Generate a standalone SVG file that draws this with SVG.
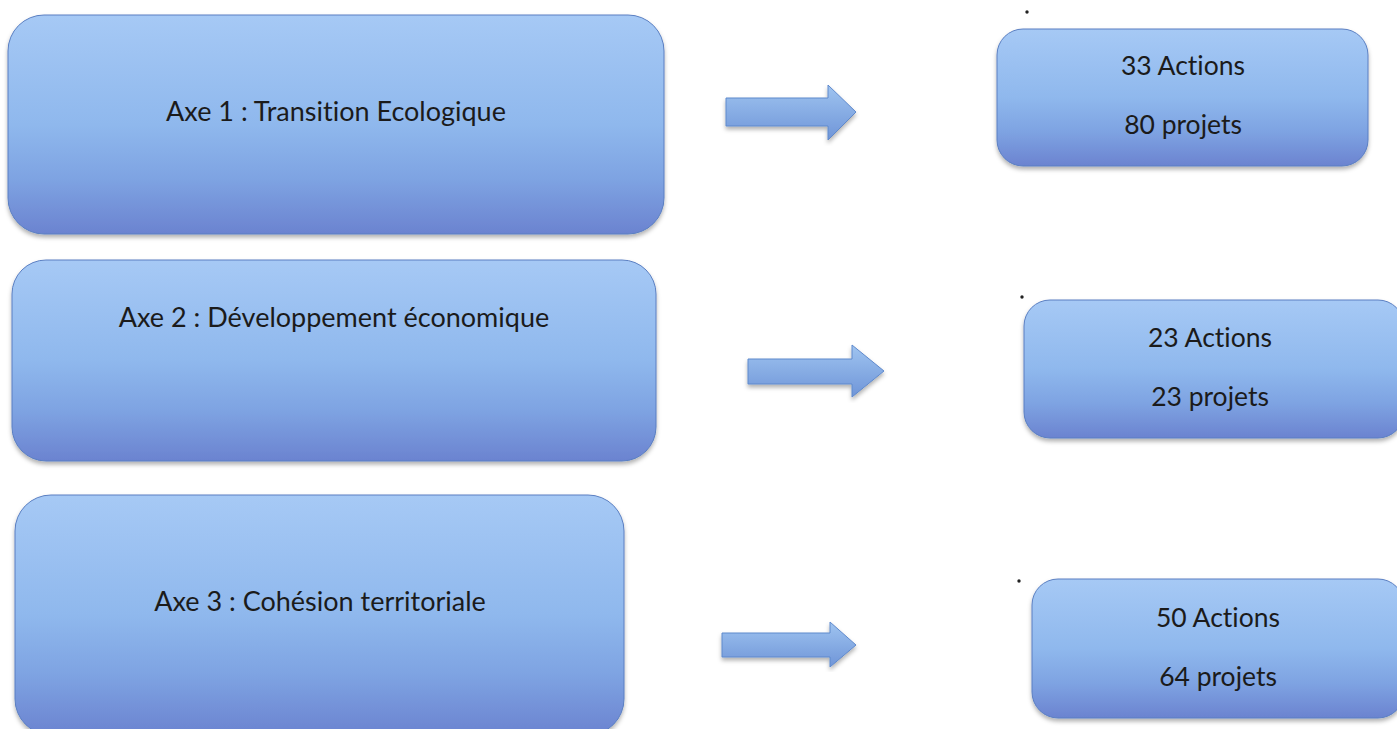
<svg xmlns="http://www.w3.org/2000/svg" width="1397" height="729" viewBox="0 0 1397 729">
<defs>
<linearGradient id="g" x1="0" y1="0" x2="0" y2="1">
<stop offset="0" stop-color="#a6c9f5"/>
<stop offset="0.5" stop-color="#8fb8ed"/>
<stop offset="0.75" stop-color="#7ea3e2"/>
<stop offset="1" stop-color="#6b83d0"/>
</linearGradient>
<linearGradient id="ga" x1="0" y1="0" x2="0" y2="1">
<stop offset="0" stop-color="#9fc4f0"/>
<stop offset="1" stop-color="#6f95d8"/>
</linearGradient>
<filter id="sh" x="-5%" y="-5%" width="110%" height="115%">
<feDropShadow dx="0" dy="3" stdDeviation="2" flood-color="#000" flood-opacity="0.3"/>
</filter>
</defs>
<style>
.box{fill:url(#g);stroke:#5a7fc2;stroke-width:1;filter:url(#sh)}
.arr{fill:url(#ga);stroke:#5f89cc;stroke-width:1;filter:url(#sh)}
text{font-family:Lato,"Liberation Sans",sans-serif;font-size:27px;fill:#1b1b1b;text-anchor:middle;font-variant-ligatures:none}
.r{font-size:26.5px}
</style>
<rect width="1397" height="729" fill="#fff"/>
<g id="axe1"><rect class="box" x="8" y="15" width="656" height="219" rx="36"/><text x="336" y="121">Axe 1 : Transition Ecologique</text></g>
<g id="axe2"><rect class="box" x="12" y="260" width="644" height="201" rx="34"/><text x="334" y="327">Axe 2 : Développement économique</text></g>
<g id="axe3"><rect class="box" x="15" y="495" width="609" height="240" rx="36"/><text x="320" y="611">Axe 3 : Cohésion territoriale</text></g>
<g id="res1"><rect class="box" x="997" y="29" width="371" height="137" rx="26"/><text class="r" x="1183" y="75">33 Actions</text><text class="r" x="1183" y="134">80 projets</text></g>
<g id="res2"><rect class="box" x="1024" y="300" width="380" height="138" rx="26"/><text class="r" x="1210" y="347">23 Actions</text><text class="r" x="1210" y="406">23 projets</text></g>
<g id="res3"><rect class="box" x="1032" y="579" width="372" height="139" rx="26"/><text class="r" x="1218" y="627">50 Actions</text><text class="r" x="1218" y="686">64 projets</text></g>
<g id="connectors">
<path class="arr" d="M726,98 H828 V85 L856,112 L828,140 V126 H726 Z"/>
<path class="arr" d="M748,359 H852 V345 L884,371 L852,397 V384 H748 Z"/>
<path class="arr" d="M722,633 H830 V622 L856,645 L830,667 V657 H722 Z"/>
</g>
<g id="dots" fill="#222">
<circle cx="1027" cy="12" r="1.7"/>
<circle cx="1022" cy="297" r="1.7"/>
<circle cx="1019" cy="581" r="1.7"/>
</g>
</svg>
